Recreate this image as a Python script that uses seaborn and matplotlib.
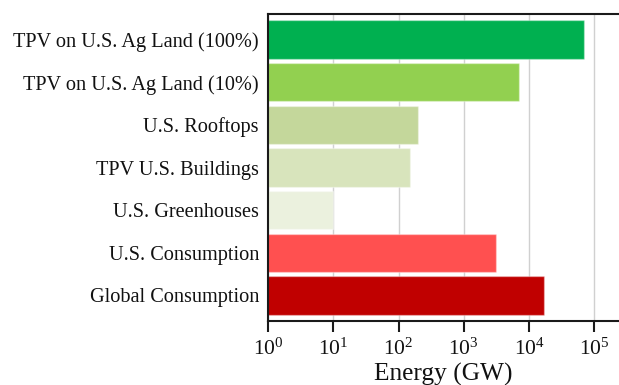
import matplotlib
matplotlib.use("Agg")
import matplotlib.pyplot as plt
import seaborn as sns
import pandas as pd
from matplotlib.ticker import LogLocator, NullLocator

categories = [
    "TPV on U.S. Ag Land (100%)",
    "TPV on U.S. Ag Land (10%)",
    "U.S. Rooftops",
    "TPV U.S. Buildings",
    "U.S. Greenhouses",
    "U.S. Consumption",
    "Global Consumption",
]
energy_gw = [69000, 7000, 200, 150, 10, 3100, 17000]
colors = ["#00B050", "#92D050", "#C4D79B", "#D8E4BC", "#EBF1DE", "#FF5050", "#C00000"]

df = pd.DataFrame({"cat": categories, "val": energy_gw})

sns.set_theme(style="white")
plt.rcParams["font.family"] = ["Liberation Serif", "DejaVu Serif"]
plt.rcParams["mathtext.fontset"] = "custom"
plt.rcParams["mathtext.rm"] = "Liberation Serif"
plt.rcParams["mathtext.it"] = "Liberation Serif:italic"

fig = plt.figure(figsize=(6.19, 3.85), dpi=100)
ax = fig.add_axes([268 / 619, 64 / 385, 1 - 268 / 619, (321 - 14) / 385])

sns.barplot(data=df, y="cat", x="val", hue="cat", palette=colors, legend=False,
            orient="h", width=0.9, saturation=1, ax=ax, linewidth=1.0,
            edgecolor=(1, 1, 1, 0.35), zorder=2)
ax.set_xscale("log")
ax.set_xlim(1, 10 ** 5.378)
ax.set_ylim(6.6, -0.6)
ax.xaxis.set_major_locator(LogLocator(base=10, numticks=10))
ax.xaxis.set_minor_locator(NullLocator())
ax.grid(axis="x", color="#d0d0d0", linewidth=1.0, zorder=0)
ax.set_axisbelow(True)

for s in ["left", "bottom", "top"]:
    ax.spines[s].set_visible(True)
    ax.spines[s].set_color("#1a1a1a")
    ax.spines[s].set_linewidth(1.5)
ax.spines["right"].set_visible(False)

ax.tick_params(axis="x", which="major", direction="out", length=8, width=1.5,
               color="#1a1a1a", labelsize=15.5, pad=5, bottom=True)
ax.tick_params(axis="y", length=0, labelsize=14.6, pad=6.5)
for lab in ax.get_xticklabels() + ax.get_yticklabels():
    lab.set_color("#111111")

ax.set_ylabel("")
ax.set_xlabel("Energy (GW)", fontsize=18.3, color="#111111", labelpad=2)

fig.savefig("out.png", dpi=100)
